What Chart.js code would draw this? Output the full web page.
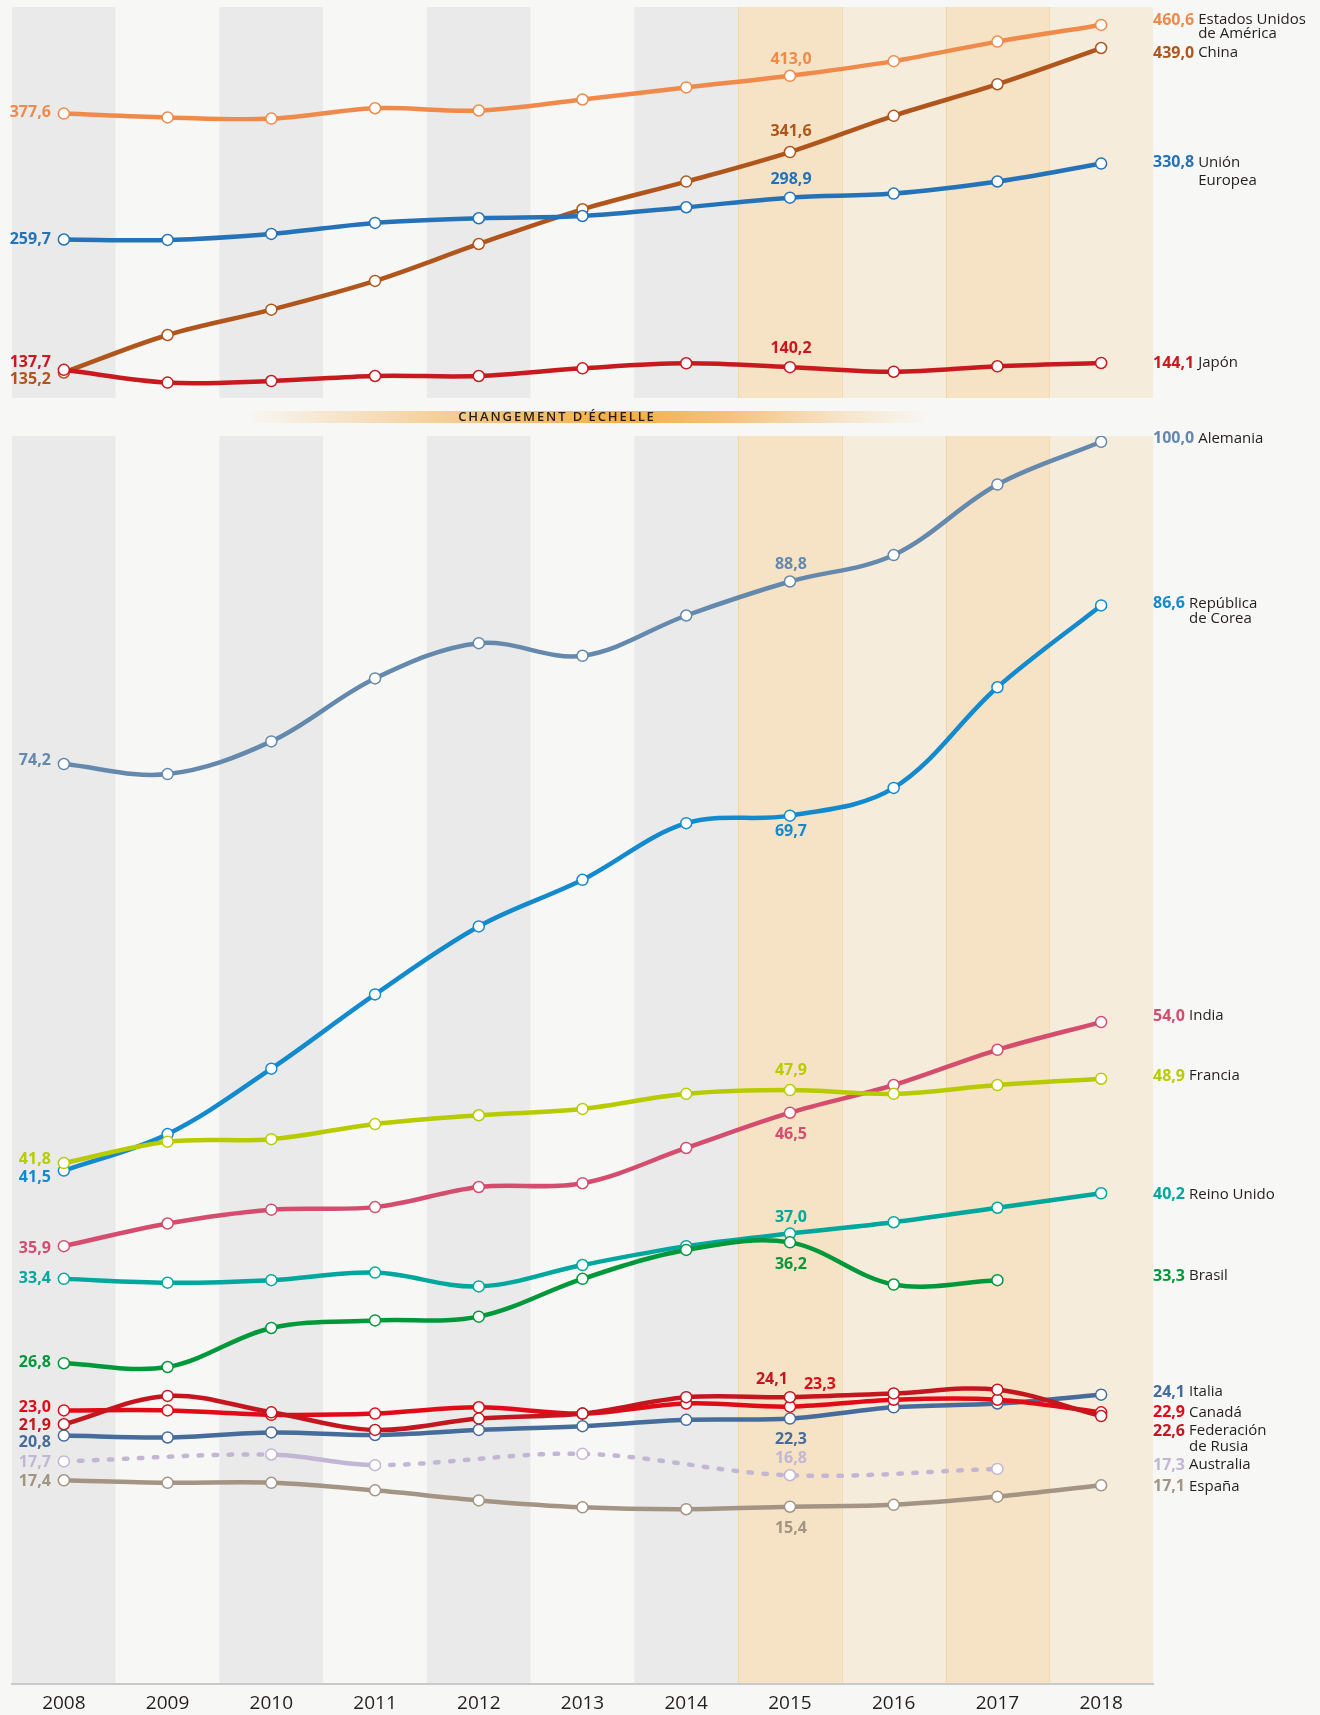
<!DOCTYPE html>
<html>
<head>
<meta charset="utf-8">
<script src="https://cdn.jsdelivr.net/npm/chart.js@4.4.1/dist/chart.umd.min.js"></script>
<style>
  html, body { margin: 0; padding: 0; background: #f7f7f5; }
  #wrap { position: relative; width: 1320px; height: 1715px; overflow: hidden; }
  #top { position: absolute; left: 0; top: 0; }
  #bottom { position: absolute; left: 0; top: 420px; }
  #banner {
    position: absolute; left: 246px; top: 411px; width: 684px; height: 12px;
    background: linear-gradient(90deg, rgba(246,200,140,0) 0%, rgba(245,205,150,0.6) 18%, #f5c583 35%, #f5ae47 55%, #f5c17a 70%, rgba(245,214,168,0.5) 88%, rgba(246,224,190,0) 100%);
  }
  #bannerText {
    position: absolute; left: 357px; top: 408px; width: 400px; text-align: center;
    font: 600 13px "Open Sans", sans-serif; letter-spacing: 1.9px; color: #231f20; line-height: 17px;
  }
</style>
</head>
<body>
<div id="wrap">
  <canvas id="top" width="1320" height="410"></canvas>
  <div id="banner"></div>
  <div id="bannerText">CHANGEMENT D’ÉCHELLE</div>
  <canvas id="bottom" width="1320" height="1303"></canvas>
</div>
<script>
(function () {

    // categories
    const years = ['2008', '2009', '2010', '2011', '2012', '2013', '2014', '2015', '2016', '2017', '2018'];

    // upper panel
    const usa    = [377.6, 374.0, 372.9, 382.6, 380.5, 390.8, 402.1, 413.0, 426.7, 445.0, 460.6];
    const china  = [135.2, 170.3, 194.0, 220.9, 255.5, 288.0, 313.9, 341.6, 375.5, 405.1, 439.0];
    const eu     = [259.7, 259.3, 264.9, 275.2, 279.6, 281.7, 289.9, 298.9, 302.7, 314.0, 330.8];
    const japan  = [137.7, 125.7, 127.2, 131.9, 131.9, 139.1, 143.8, 140.2, 135.9, 141.0, 144.1];

    // lower panel
    const germany   = [74.4, 73.6, 76.2, 81.2, 84.0, 83.0, 86.2, 88.9, 91.0, 96.6, 100.0];
    const korea     = [42.1, 45.0, 50.2, 56.1, 61.5, 65.2, 69.7, 70.3, 72.5, 80.5, 87.0];
    const india     = [36.1, 37.9, 39.0, 39.2, 40.8, 41.1, 43.9, 46.7, 48.9, 51.7, 53.9];
    const france    = [42.7, 44.4, 44.6, 45.8, 46.5, 47.0, 48.2, 48.5, 48.2, 48.9, 49.4];
    const uk        = [33.5, 33.2, 33.4, 34.0, 32.9, 34.6, 36.1, 37.1, 38.0, 39.15, 40.3];
    const brazil    = [26.8, 26.5, 29.6, 30.2, 30.5, 33.5, 35.8, 36.4, 33.05, 33.4, null];
    const italy     = [21.05, 20.9, 21.3, 21.1, 21.5, 21.8, 22.3, 22.4, 23.3, 23.6, 24.3];
    const canada    = [23.05, 23.05, 22.7, 22.8, 23.3, 22.8, 23.6, 23.35, 23.9, 23.9, 22.9];
    const russia    = [21.95, 24.2, 22.9, 21.5, 22.4, 22.8, 24.1, 24.1, 24.4, 24.7, 22.6];
    const australia = [19.0, null, 19.55, 18.7, null, 19.6, null, 17.9, null, 18.4, null];
    const spain     = [17.5, 17.3, 17.3, 16.7, 15.9, 15.35, 15.2, 15.4, 15.55, 16.2, 17.1];

    // printed values: [2008, 2015, last]
    const usaText       = ['377,6', '413,0', '460,6'];
    const chinaText     = ['135,2', '341,6', '439,0'];
    const euText        = ['259,7', '298,9', '330,8'];
    const japanText     = ['137,7', '140,2', '144,1'];
    const germanyText   = ['74,2', '88,8', '100,0'];
    const koreaText     = ['41,5', '69,7', '86,6'];
    const indiaText     = ['35,9', '46,5', '54,0'];
    const franceText    = ['41,8', '47,9', '48,9'];
    const ukText        = ['33,4', '37,0', '40,2'];
    const brazilText    = ['26,8', '36,2', '33,3'];
    const italyText     = ['20,8', '22,3', '24,1'];
    const canadaText    = ['23,0', '23,3', '22,9'];
    const russiaText    = ['21,9', '24,1', '22,6'];
    const australiaText = ['17,7', '16,8', '17,3'];
    const spainText     = ['17,4', '15,4', '17,1'];

    // column backgrounds
    const bandColors = ['#e9eae9', '#f7f7f5', '#e9eae9', '#f7f7f5', '#e9eae9', '#f7f7f5', '#e9eae9',
                        '#f6e2c4', '#f6ecdc', '#f6e2c4', '#f6ecdc'];

    // series style + label placement (dy offsets for start / mid / end labels)
    const topSeries = [
        { data: japan, text: japanText, color: '#c8191f', name: ['Japón'],        dy: [-7, -19, 0] },
        { data: eu,    text: euText,    color: '#2473b9', name: ['Unión', 'Europea'], lh: 18, dy: [0, -18, -1] },
        { data: china, text: chinaText, color: '#b0561c', name: ['China'],        dy: [7, -21, 5] },
        { data: usa,   text: usaText,   color: '#ef8a4a', name: ['Estados Unidos', 'de América'], lh: 14, dy: [-1, -16, -5] }
    ];

    const bottomSeries = [
        { data: spain,     text: spainText,     color: '#a39483', name: ['España'],     dy: [1, 22, 1] },
        { data: australia, text: australiaText, color: '#c3b6d4', name: ['Australia'],  dy: [1, -17, -4], dashed: true },
        { data: russia,    text: russiaText,    color: '#c3161f', name: ['Federación', 'de Rusia'], lh: 15.5, dy: [1.5, -17.5, 15], dx: -19 },
        { data: canada,    text: canadaText,    color: '#e30a17', name: ['Canadá'],     dy: [-3, -22, 0], dx: 29 },
        { data: italy,     text: italyText,     color: '#466c9b', name: ['Italia'],     dy: [7, 21, -2.5] },
        { data: brazil,    text: brazilText,    color: '#00983a', name: ['Brasil'],     dy: [-1, 22, -4] },
        { data: uk,        text: ukText,        color: '#00a79d', name: ['Reino Unido'], dy: [0, -16, 1] },
        { data: france,    text: franceText,    color: '#b7cb00', name: ['Francia'],    dy: [-3.5, -20, -2.5] },
        { data: india,     text: indiaText,     color: '#d44d6e', name: ['India'],      dy: [2, 22, -6] },
        { data: korea,     text: koreaText,     color: '#138acd', name: ['República', 'de Corea'], lh: 15, dy: [7, 16, -2] },
        { data: germany,   text: germanyText,   color: '#6489ad', name: ['Alemania'],   dy: [-4, -17, -3] }
    ];

    const valueFont = 'bold 16px "Open Sans", sans-serif';
    const nameFont = '15px "Open Sans", sans-serif';

    const bands = {
        id: 'bands',
        beforeDraw(chart) {
            const { ctx, chartArea: a, scales: { x } } = chart;
            const w = (a.right - a.left) / years.length;
            ctx.save();
            years.forEach((yr, i) => {
                const c = x.getPixelForValue(i);
                ctx.fillStyle = bandColors[i];
                ctx.fillRect(c - w / 2, a.top, w, a.bottom - a.top);
            });
            ctx.strokeStyle = 'rgba(238, 200, 140, 0.55)';
            ctx.lineWidth = 1;
            [7, 9].forEach(i => {
                const c = x.getPixelForValue(i);
                [c - w / 2, c + w / 2].forEach(px => {
                    ctx.beginPath();
                    ctx.moveTo(Math.round(px) + 0.5, a.top);
                    ctx.lineTo(Math.round(px) + 0.5, a.bottom);
                    ctx.stroke();
                });
            });
            ctx.restore();
        }
    };

    function lastIndex(arr) {
        for (let i = arr.length - 1; i >= 0; i--) if (arr[i] !== null) return i;
        return 0;
    }

    function labelPlugin(list) {
        return {
            id: 'valueLabels',
            afterDatasetsDraw(chart) {
                const { ctx, scales: { x, y } } = chart;
                ctx.save();
                ctx.textBaseline = 'middle';
                list.forEach(s => {
                    ctx.fillStyle = s.color;
                    ctx.font = valueFont;
                    // start label
                    ctx.textAlign = 'right';
                    ctx.fillText(s.text[0], x.getPixelForValue(0) - 13, y.getPixelForValue(s.data[0]) + s.dy[0]);
                    // 2015 label
                    ctx.textAlign = 'center';
                    ctx.fillText(s.text[1], x.getPixelForValue(7) + 1 + (s.dx || 0), y.getPixelForValue(s.data[7]) + s.dy[1]);
                    // end label
                    const li = lastIndex(s.data);
                    const ly = y.getPixelForValue(s.data[li]) + s.dy[2];
                    const lx = 1153;
                    ctx.textAlign = 'left';
                    ctx.fillText(s.text[2], lx, ly);
                    const nx = lx + ctx.measureText(s.text[2]).width + 4;
                    ctx.fillStyle = '#231f20';
                    ctx.font = nameFont;
                    s.name.forEach((n, k) => ctx.fillText(n, nx, ly + k * (s.lh || 15)));
                });
                ctx.restore();
            }
        };
    }

    function makeDatasets(list) {
        return list.map(s => ({
            data: s.data,
            borderColor: s.color,
            borderWidth: 4.5,
            pointRadius: 5.5,
            pointBorderWidth: 1.5,
            pointBackgroundColor: '#ffffff',
            pointBorderColor: s.color,
            tension: 0.35,
            spanGaps: true,
            segment: s.dashed ? {
                borderDash: ctx => (ctx.p0.skip || ctx.p1.skip) ? [3.5, 11.5] : undefined
            } : undefined,
            borderCapStyle: 'round'
        }));
    }

    // upper panel
    new Chart(document.getElementById('top'), {
        type: 'line',
        data: { labels: years, datasets: makeDatasets(topSeries) },
        options: {
            responsive: false,
            animation: false,
            layout: { padding: { left: 12, right: 167, top: 7, bottom: 12 } },
            plugins: { legend: { display: false }, tooltip: { enabled: false } },
            scales: {
                x: { type: 'category', offset: true, display: false },
                y: { display: false, min: 111.3, max: 477.4 }
            }
        },
        plugins: [bands, labelPlugin(topSeries)]
    });

    // lower panel
    new Chart(document.getElementById('bottom'), {
        type: 'line',
        data: { labels: years, datasets: makeDatasets(bottomSeries) },
        options: {
            responsive: false,
            animation: false,
            layout: { padding: { left: 12, right: 167, top: 16, bottom: 0 } },
            plugins: { legend: { display: false }, tooltip: { enabled: false } },
            scales: {
                x: {
                    type: 'category',
                    offset: true,
                    grid: { display: false, drawTicks: false },
                    border: { display: true, color: '#c9c9c9', width: 2 },
                    ticks: { color: '#231f20', font: { family: 'Open Sans', size: 19 }, padding: 8, maxRotation: 0 }
                },
                y: { display: false, min: 1.3, max: 100.46 }
            }
        },
        plugins: [bands, labelPlugin(bottomSeries)]
    });

})();
</script>
</body>
</html>
